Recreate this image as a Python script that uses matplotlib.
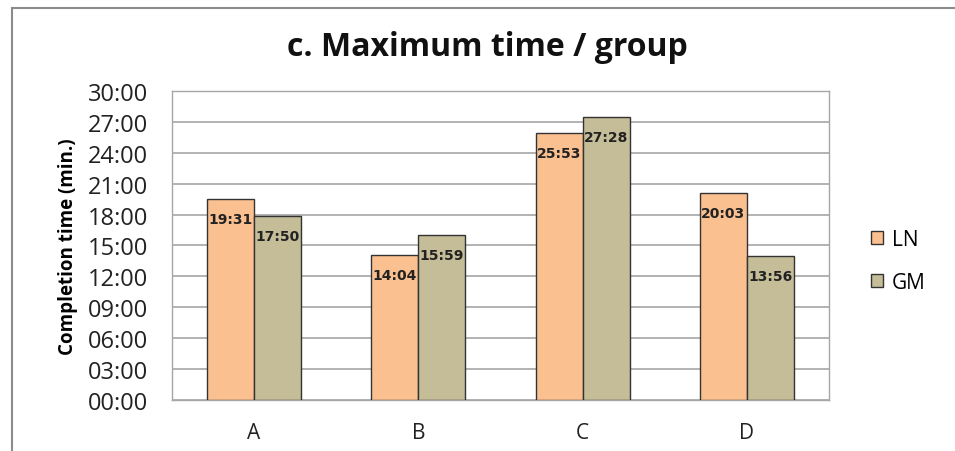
import matplotlib.pyplot as plt
from matplotlib.lines import Line2D
import numpy as np

# Max completion time per group (mm:ss)
groups = ['A', 'B', 'C', 'D']
ln_times = ['19:31', '14:04', '25:53', '20:03']
gm_times = ['17:50', '15:59', '27:28', '13:56']
y_ticks = ['00:00', '03:00', '06:00', '09:00', '12:00', '15:00',
           '18:00', '21:00', '24:00', '27:00', '30:00']


def to_min(s):
    m, sec = s.split(':')
    return int(m) + int(sec) / 60.0


ln = [to_min(t) for t in ln_times]
gm = [to_min(t) for t in gm_times]

plt.rcParams['font.family'] = ['Open Sans', 'DejaVu Sans']

fig = plt.figure(figsize=(9.55, 4.52), dpi=100)
ax = fig.add_axes([0.180, 0.1128, 0.688, 0.6837])

x = np.arange(len(groups))
w = 0.286
b1 = ax.bar(x - w / 2, ln, w, color='#FAC090', edgecolor='#333333', linewidth=1.0, label='LN', zorder=3)
b2 = ax.bar(x + w / 2, gm, w, color='#C4BD97', edgecolor='#333333', linewidth=1.0, label='GM', zorder=3)

for bars, labels in ((b1, ln_times), (b2, gm_times)):
    for rect, lab in zip(bars, labels):
        ax.text(rect.get_x() + rect.get_width() / 2, rect.get_height() - 1.25, lab,
                ha='center', va='top', fontsize=10, fontweight='bold',
                family='DejaVu Sans', color='#222222', zorder=4)

ax.set_xlim(-0.5, len(groups) - 0.5)
ax.set_ylim(0, 30)
ax.set_yticks([to_min(t) for t in y_ticks])
ax.set_yticklabels(y_ticks, fontsize=17, color='#222222')
ax.set_xticks(x)
ax.set_xticklabels(groups, fontsize=15, color='#222222')
ax.tick_params(axis='y', length=0, pad=17)
ax.tick_params(axis='x', length=0, pad=16)
ax.yaxis.grid(True, color='#A6A6A6', linewidth=1.2, zorder=0)
for s in ax.spines.values():
    s.set_color('#A6A6A6')
    s.set_linewidth(1.0)

ax.set_ylabel('Completion time (min.)', fontsize=13.5, fontweight='bold',
              fontstretch='condensed', labelpad=7)

fig.text(0.51, 0.896, 'c. Maximum time / group', ha='center', va='center',
         fontsize=23, fontweight='bold', color='#111111')

ax.legend(loc='center left', bbox_to_anchor=(1.035, 0.45), frameon=False,
          fontsize=15, handlelength=0.6, handleheight=0.6, labelspacing=1.05,
          handletextpad=0.4)

# outer chart frame
fig.add_artist(Line2D([12 / 955, 1], [1 - 9 / 452, 1 - 9 / 452], color='#8C8C8C', linewidth=1.5,
                      transform=fig.transFigure))
fig.add_artist(Line2D([12 / 955, 12 / 955], [0, 1 - 9 / 452], color='#8C8C8C', linewidth=1.5,
                      transform=fig.transFigure))

fig.savefig('out.png', dpi=100)
